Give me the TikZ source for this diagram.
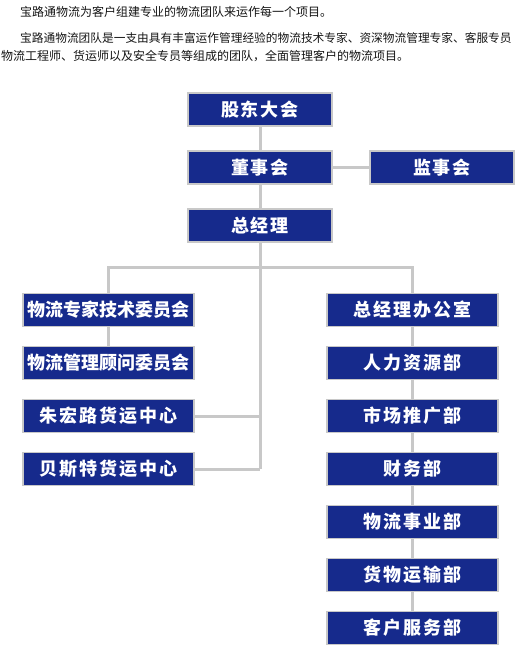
\documentclass[tikz,border=0pt]{standalone}
\usepackage{fontspec}
\setmainfont{Noto Sans CJK SC}
\newfontfamily\boxfont[LetterSpace=11]{Noto Sans CJK SC}
\newfontfamily\tightboxfont{Noto Sans CJK SC}
\usetikzlibrary{backgrounds}
\definecolor{boxblue}{RGB}{22,42,140}
\definecolor{linegray}{RGB}{200,200,200}
\definecolor{introtext}{RGB}{20,20,20}

\begin{document}
\begin{tikzpicture}[x=1pt,y=-1pt]
\tikzstyle{box} = [rectangle,draw=linegray,line width=1.5pt,fill=boxblue,text=white,inner sep=0pt,minimum height=33pt,font=\boxfont\bfseries\fontsize{18}{20}\selectfont]
\tikzstyle{topbox} = [box,minimum width=144pt]
\tikzstyle{colbox} = [box,minimum width=171pt]
\tikzstyle{widebox} = [colbox,font=\tightboxfont\bfseries\fontsize{18}{20}\selectfont]
\tikzstyle{link} = [linegray,line width=3pt]
\tikzstyle{intro} = [anchor=west,inner sep=0pt,text=introtext,font=\fontsize{12}{14}\selectfont]

\useasboundingbox (0,0) rectangle (519,658);

% intro text
\draw (20,12) node[intro] (line1) {宝路通物流为客户组建专业的物流团队来运作每一个项目。};
\draw (20,38) node[intro,font=\fontsize{11.7}{14}\selectfont] (line2) {宝路通物流团队是一支由具有丰富运作管理经验的物流技术专家、资深物流管理专家、客服专员};
\draw (1,56) node[intro] (line3) {物流工程师、货运师以及安全专员等组成的团队，全面管理客户的物流项目。};

% top
\draw (260,109.5) node[topbox] (gudong) {股东大会};
\draw (260,167.5) node[topbox] (dongshi) {董事会};
\draw (442,167.5) node[topbox] (jianshi) {监事会};
\draw (260,225.5) node[topbox] (zongjingli) {总经理};

% left column
\draw (108.5,310) node[widebox] (zhuanjia) {物流专家技术委员会};
\draw (108.5,363) node[widebox] (guwen) {物流管理顾问委员会};
\draw (108.5,416) node[colbox] (zhuhong) {朱宏路货运中心};
\draw (108.5,469) node[colbox] (beisite) {贝斯特货运中心};

% right column
\draw (412.5,310) node[colbox] (bangong) {总经理办公室};
\draw (412.5,363) node[colbox] (renli) {人力资源部};
\draw (412.5,416) node[colbox] (shichang) {市场推广部};
\draw (412.5,469) node[colbox] (caiwu) {财务部};
\draw (412.5,522) node[colbox] (shiye) {物流事业部};
\draw (412.5,575) node[colbox] (yunshu) {货物运输部};
\draw (412.5,628) node[colbox] (kehu) {客户服务部};

\coordinate (split) at (260,267);
\coordinate (trunkend) at (260,469);

\begin{scope}[on background layer]
\draw[link] (gudong) -- (dongshi) -- (zongjingli);
\draw[link] (dongshi) -- (jianshi);
\draw[link] (zongjingli) -- (trunkend);
\draw[link] (zhuanjia.center) |- (split) -| (bangong.center);
\draw[link] (zhuanjia) -- (guwen);
\draw[link] (zhuhong.east) -- (zhuhong.east -| split);
\draw[link] (beisite.east) -- (trunkend);
\draw[link] (bangong) -- (renli) -- (shichang) -- (caiwu) -- (shiye) -- (yunshu) -- (kehu);
\end{scope}

\end{tikzpicture}
\end{document}
